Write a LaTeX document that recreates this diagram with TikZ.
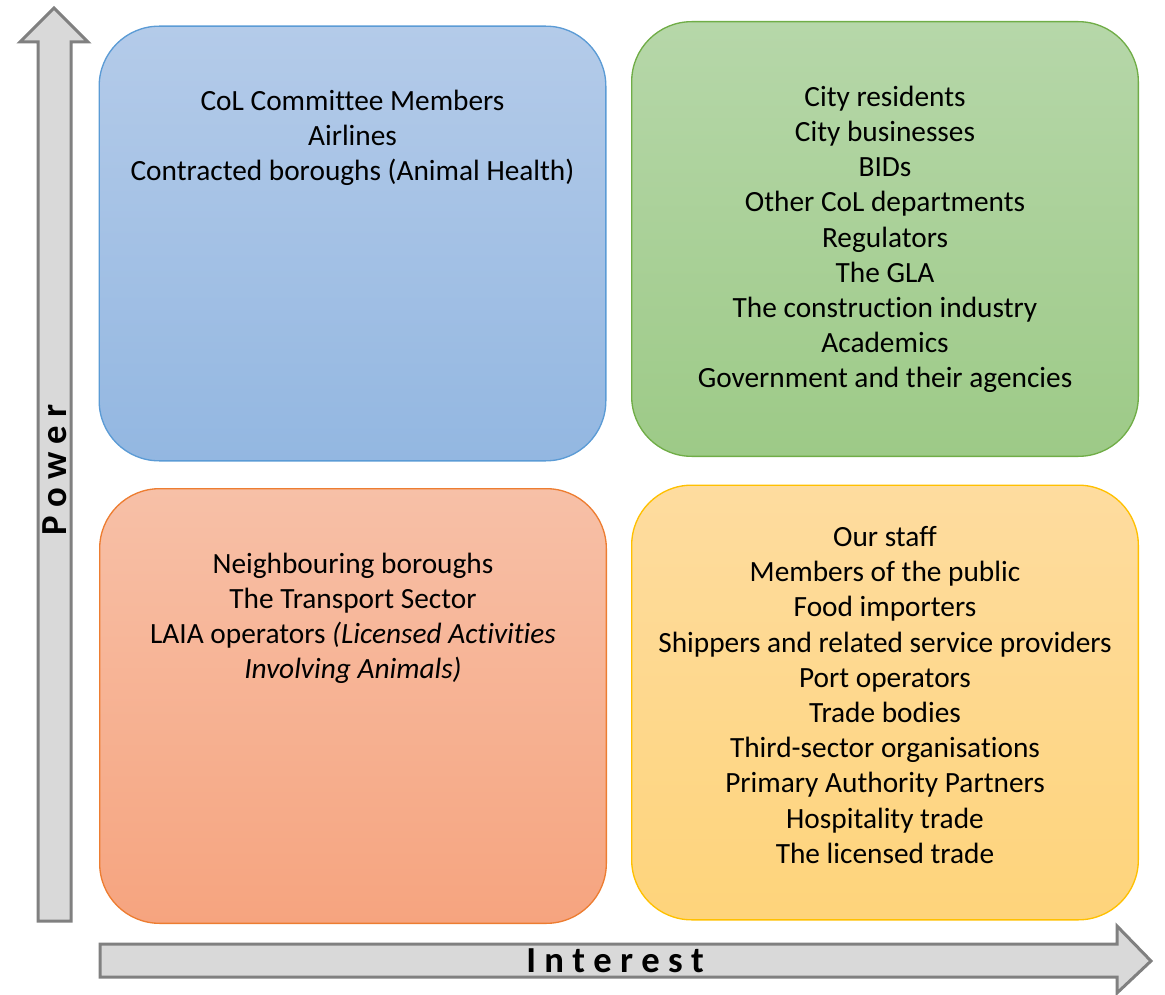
\documentclass[tikz,border=0pt]{standalone}
\usepackage{fontspec}
\setmainfont[Ligatures=NoCommon]{Carlito}
\usepackage{tikz}
\pgfdeclarelayer{bg}
\pgfsetlayers{bg,main}

\definecolor{bluetop}{HTML}{B4CBE9}
\definecolor{bluebot}{HTML}{93B7E1}
\definecolor{blueline}{HTML}{5B9BD5}
\definecolor{greentop}{HTML}{B6D7A9}
\definecolor{greenbot}{HTML}{9DCA87}
\definecolor{greenline}{HTML}{70AD47}
\definecolor{orangetop}{HTML}{F7C0A7}
\definecolor{orangebot}{HTML}{F6A47F}
\definecolor{orangeline}{HTML}{ED7D31}
\definecolor{yellowtop}{HTML}{FEDC9F}
\definecolor{yellowbot}{HTML}{FED47B}
\definecolor{yellowline}{HTML}{FFC000}
\definecolor{axisfill}{HTML}{D9D9D9}
\definecolor{axisline}{HTML}{808080}

\begin{document}
\begin{tikzpicture}[x=0.75pt,y=-0.75pt,
        quad/.style={rounded corners=45pt, line width=1pt, inner sep=0pt,
                minimum width=380pt, minimum height=326pt},
        names/.style={align=center, font=\fontsize{22}{26.4}\selectfont},
        axis/.style={fill=axisfill, draw=axisline, line width=2.25pt, line join=miter},
        axislabel/.style={font=\fontsize{27.5}{30}\selectfont\bfseries}]
        \useasboundingbox (0,0) rectangle (1165,995);
        \begin{pgfonlayer}{bg}
                % axes
                \draw [axis] (38,921) -- (38,42) -- (20,42) -- (54,8) -- (88,42) -- (71,42) -- (71,921) -- cycle;
                \draw [axis] (100,944) -- (1117,944) -- (1117,926) -- (1151,961) -- (1117,993) -- (1117,977) -- (100,977) -- cycle;
        \end{pgfonlayer}
        \node (hp) [quad, draw=blueline, top color=bluetop, bottom color=bluebot] at (352.5,243.5) {};
        \node (hh) [quad, draw=greenline, top color=greentop, bottom color=greenbot] at (885,239) {};
        \node (lp) [quad, draw=orangeline, top color=orangetop, bottom color=orangebot] at (353,706) {};
        \node (lh) [quad, draw=yellowline, top color=yellowtop, bottom color=yellowbot] at (885,702.5) {};
        \node (hpt) [names] at (352.5,138) {CoL Committee Members\\Airlines\\Contracted boroughs (Animal Health)};
        \node (hht) [names] at (885,239.5) {City residents\\City businesses\\BIDs\\Other CoL departments\\Regulators\\The GLA\\The construction industry\\Academics\\Government and their agencies};
        \node (lpt) [names] at (353,618.5) {Neighbouring boroughs\\The Transport Sector\\LAIA operators \textit{(Licensed Activities}\\\textit{Involving Animals)}};
        \node (lht) [names] at (885,695) {Our staff\\Members of the public\\Food importers\\Shippers and related service providers\\Port operators\\Trade bodies\\Third-sector organisations\\Primary Authority Partners\\Hospitality trade\\The licensed trade};
        \node (power) [axislabel, rotate=90] at (55,470) {P o w e r};
        \node (interest) [axislabel] at (615,961) {I n t e r e s t};
\end{tikzpicture}
\end{document}
